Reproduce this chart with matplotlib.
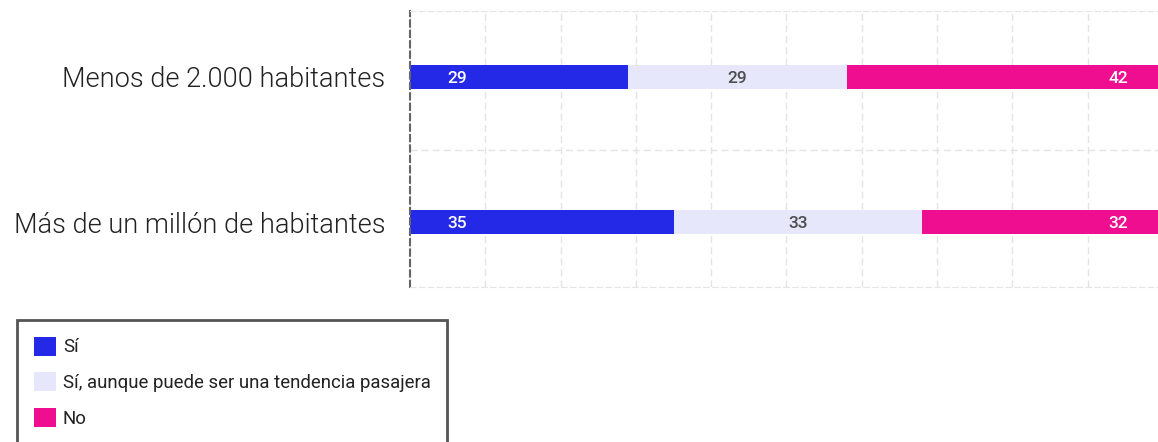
import matplotlib.pyplot as plt
import numpy as np

plt.rcParams['font.family'] = ['Roboto', 'DejaVu Sans']

categories = ['Menos de 2.000 habitantes', 'Más de un millón de habitantes']
series_names = ['Sí', 'Sí, aunque puede ser una tendencia pasajera', 'No']
si = [29, 35]
si_aunque = [29, 33]
no = [42, 32]

colors = ['#2329e6', '#e6e7fa', '#ee0e8f']
label_colors = ['white', '#4d4d4d', 'white']

W, H = 1158, 442
fig = plt.figure(figsize=(W / 100, H / 100), dpi=100)
ax = fig.add_axes([410 / W, 1 - 287 / H, 753 / W, 276 / H])

y = np.arange(len(categories))
left = np.zeros(len(categories))
for vals, name, col, tcol, idx in zip([si, si_aunque, no], series_names, colors, label_colors, range(3)):
    bars = ax.barh(y, vals, left=left, height=0.16, color=col, label=name, zorder=2)
    for b, v in zip(bars, vals):
        yc = b.get_y() + b.get_height() / 2
        if idx == 0:
            xy, off = (b.get_x(), yc), 34
        elif idx == 1:
            xy, off = (b.get_x() + b.get_width() / 2, yc), 0
        else:
            xy, off = (b.get_x() + b.get_width(), yc), -32
        ax.annotate(str(v), xy=xy, xytext=(off, -1), textcoords='offset points',
                    ha='center', va='center', color=tcol, fontsize=12.5, fontweight=500, zorder=3)
    left += np.array(vals)

ax.set_xlim(0, 100)
ax.set_ylim(1.448, -0.455)
ax.set_xticks(np.arange(0, 101, 10))
ax.set_yticks(y)
ax.set_yticklabels(categories, fontsize=19.5, fontweight=300, color='#222222')
ax.set_yticks([0.5], minor=True)
ax.tick_params(axis='x', length=0, labelbottom=False)
ax.tick_params(axis='y', which='both', length=0, pad=18)
ax.grid(True, axis='x', color='#e4e4e4', linestyle=(0, (5, 3)), linewidth=1, zorder=0)
ax.grid(True, axis='y', which='minor', color='#e4e4e4', linestyle=(0, (5, 3)), linewidth=1, zorder=0)

for s in ['top', 'bottom']:
    ax.spines[s].set_color('#e4e4e4')
    ax.spines[s].set_linestyle((0, (5, 3)))
ax.spines['right'].set_visible(False)
ax.spines['left'].set_color('#666666')
ax.spines['left'].set_linewidth(1.5)
ax.spines['left'].set_linestyle((0, (3, 2)))

leg = ax.legend(loc='upper left', bbox_to_anchor=(17 / W, 1 - 320 / H), bbox_transform=fig.transFigure,
                borderaxespad=0, fontsize=13.4, handlelength=1.18, handleheight=1.18,
                handletextpad=0.38, labelspacing=0.85, borderpad=0.9, fancybox=False,
                frameon=True, framealpha=1)
leg.get_frame().set_edgecolor('#555555')
leg.get_frame().set_linewidth(2)
for t in leg.get_texts():
    t.set_color('#222222')

fig.savefig('out.png', dpi=100)
